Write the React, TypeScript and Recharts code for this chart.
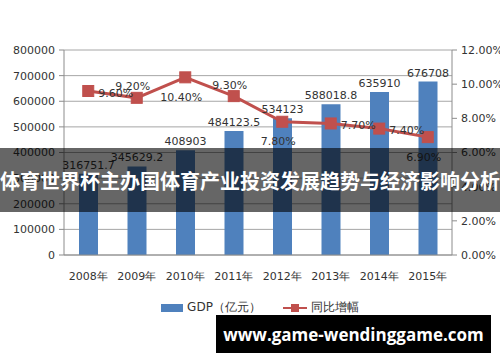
import React from 'react';
import { ComposedChart, Bar, Line, XAxis, YAxis, CartesianGrid, LabelList, Legend } from 'recharts';

const categories = ['2008年', '2009年', '2010年', '2011年', '2012年', '2013年', '2014年', '2015年'];
const gdp = [316751.7, 345629.2, 408903, 484123.5, 534123, 588018.8, 635910, 676708];
const growth = [9.6, 9.2, 10.4, 9.3, 7.8, 7.7, 7.4, 6.9];
const leftTicks = [0, 100000, 200000, 300000, 400000, 500000, 600000, 700000, 800000];
const rightTicks = [0, 2, 4, 6, 8, 10, 12];
const boundaryTicks = [0, 1, 2, 3, 4, 5, 6, 7, 8];
const gdpName = 'GDP（亿元）';
const growthName = '同比增幅';
const title = '体育世界杯主办国体育产业投资发展趋势与经济影响分析';
const site = 'www.game-wendinggame.com';

// placement of each percentage label relative to its point
const labelPlacement = ['right', 'top', 'bottom', 'top', 'bottom', 'right', 'right', 'bottom'];

const data = categories.map((c, i) => ({ name: c, gdp: gdp[i], growth: growth[i] }));

const BLUE = '#4f81bd';
const RED = '#c0504d';
const TXT = '#333333';
const FONT = 'DejaVu Sans';

const SquareDot = (props: any) => {
  const { cx, cy } = props;
  if (cx == null || cy == null) return null;
  return <rect x={cx - 5.5} y={cy - 5.5} width={11} height={11} fill={RED} stroke={RED} />;
};

const GrowthLabel = (props: any) => {
  const { x, y, value, index } = props;
  const p = labelPlacement[index];
  let tx = x;
  let ty = y;
  let anchor: 'start' | 'middle' | 'end' = 'middle';
  if (p === 'right') {
    tx = x + 10;
    ty = y + 2;
    anchor = 'start';
  } else if (p === 'top') {
    tx = x - 4;
    ty = y - 11;
  } else {
    tx = x - 4;
    ty = y + 20;
  }
  return (
    <text x={tx} y={ty} textAnchor={anchor} dominantBaseline="central" fontSize={11} fontFamily={FONT} fill={TXT}>
      {Number(value).toFixed(2)}%
    </text>
  );
};

const LegendContent = () => (
  <div style={{ display: 'flex', justifyContent: 'center', alignItems: 'center', fontFamily: FONT, fontSize: 11, color: TXT, paddingLeft: 20 }}>
    <div style={{ display: 'flex', alignItems: 'center', marginRight: 22 }}>
      <svg width={22} height={8} style={{ marginRight: 4 }}>
        <rect x={0} y={0} width={22} height={8} fill={BLUE} />
      </svg>
      <span style={{ fontSize: 12 }}>{gdpName}</span>
    </div>
    <div style={{ display: 'flex', alignItems: 'center' }}>
      <svg width={24} height={10} style={{ marginRight: 4 }}>
        <line x1={0} y1={5} x2={24} y2={5} stroke={RED} strokeWidth={2} />
        <rect x={8} y={1} width={8} height={8} fill={RED} />
      </svg>
      <span style={{ fontSize: 12 }}>{growthName}</span>
    </div>
  </div>
);

export default function App() {
  return (
    <div style={{ position: 'absolute', left: 0, top: 0, width: 500, height: 362, background: '#ffffff', overflow: 'hidden' }}>
      <ComposedChart width={500} height={362} data={data} margin={{ top: 50, right: 0, bottom: 77, left: 0 }}>
        <CartesianGrid yAxisId="left" xAxisId="cat" vertical={false} stroke="#a6a6a6" strokeWidth={1} />
        <XAxis
          xAxisId="bnd"
          type="number"
          domain={[0, 8]}
          ticks={boundaryTicks}
          tick={false}
          height={0}
          axisLine={false}
          tickLine={{ stroke: '#8c8c8c' }}
          tickSize={5}
        />
        <XAxis
          xAxisId="cat"
          dataKey="name"
          height={30}
          tickLine={false}
          axisLine={{ stroke: '#8c8c8c' }}
          tick={{ fontSize: 11, fontFamily: FONT, fill: TXT }}
          tickMargin={11}
          interval={0}
        />
        <YAxis
          yAxisId="left"
          width={64}
          domain={[0, 800000]}
          ticks={leftTicks}
          axisLine={{ stroke: '#8c8c8c' }}
          tickLine={{ stroke: '#8c8c8c' }}
          tickSize={5}
          tick={{ fontSize: 11, fontFamily: FONT, fill: TXT }}
          tickMargin={4}
          interval={0}
        />
        <YAxis
          yAxisId="right"
          orientation="right"
          width={48}
          domain={[0, 12]}
          ticks={rightTicks}
          axisLine={{ stroke: '#8c8c8c' }}
          tickLine={{ stroke: '#8c8c8c' }}
          tickSize={5}
          tick={{ fontSize: 11, fontFamily: FONT, fill: TXT }}
          tickMargin={4}
          tickFormatter={(v: number) => v.toFixed(2) + '%'}
          interval={0}
        />
        <Bar xAxisId="cat" yAxisId="left" dataKey="gdp" name={gdpName} fill={BLUE} barSize={19} isAnimationActive={false}>
          <LabelList dataKey="gdp" position="top" offset={5} style={{ fontSize: 11, fontFamily: FONT, fill: TXT }} />
        </Bar>
        <Line
          xAxisId="cat"
          yAxisId="right"
          dataKey="growth"
          name={growthName}
          stroke={RED}
          strokeWidth={3}
          dot={<SquareDot />}
          activeDot={false}
          isAnimationActive={false}
        >
          <LabelList dataKey="growth" content={<GrowthLabel />} />
        </Line>
        <Legend
          layout="horizontal"
          verticalAlign="middle"
          align="center"
          content={<LegendContent />}
          wrapperStyle={{ top: 299, left: 0, width: 500 }}
        />
      </ComposedChart>
      <div
        style={{
          position: 'absolute',
          left: 0,
          top: 148,
          width: 500,
          height: 64,
          background: 'rgba(0,0,0,0.6)',
          display: 'flex',
          alignItems: 'center',
          justifyContent: 'center',
          color: '#ffffff',
          fontFamily: '"Noto Sans CJK SC"',
          fontWeight: 700,
          fontSize: 20,
          whiteSpace: 'nowrap',
          overflow: 'hidden',
        }}
      >
        {title}
      </div>
      <div
        style={{
          position: 'absolute',
          left: 216,
          top: 315,
          width: 275,
          height: 38,
          background: '#000000',
          display: 'flex',
          alignItems: 'center',
          justifyContent: 'center',
          color: '#ffffff',
          fontFamily: '"Open Sans"',
          fontWeight: 700,
          fontSize: 17,
          whiteSpace: 'nowrap',
        }}
      >
        {site}
      </div>
    </div>
  );
}
